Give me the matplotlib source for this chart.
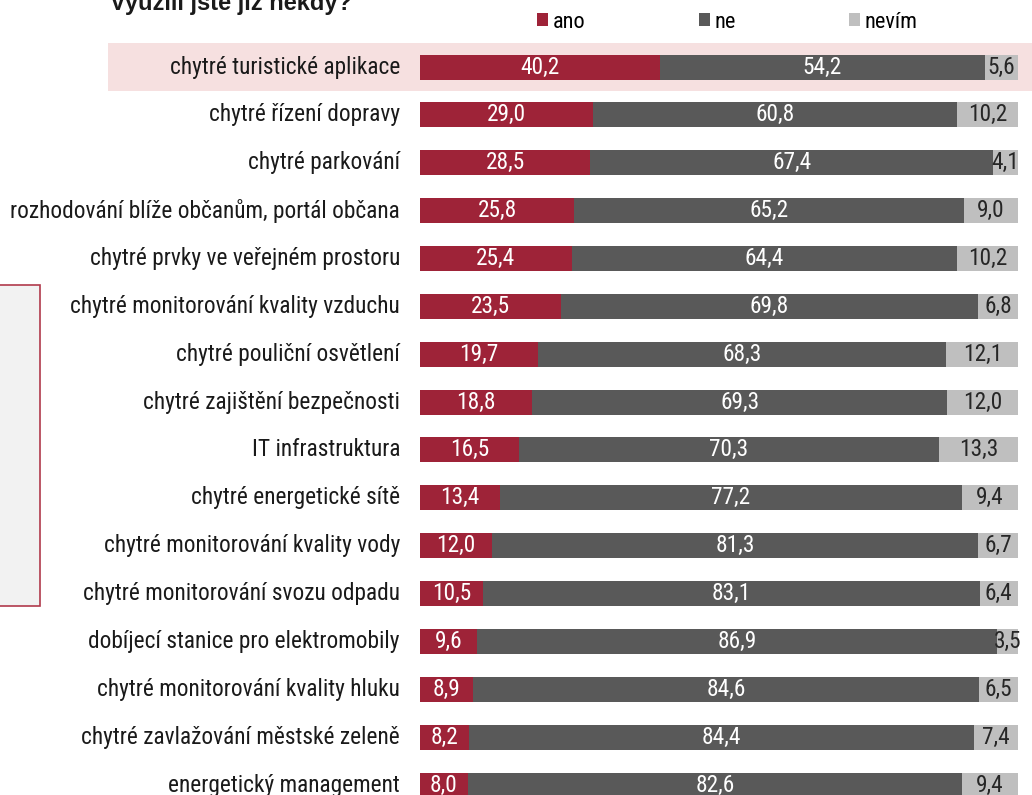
import matplotlib
matplotlib.use("Agg")
import matplotlib.pyplot as plt
from matplotlib.patches import Rectangle
from matplotlib import font_manager

categories = [
    "chytré turistické aplikace",
    "chytré řízení dopravy",
    "chytré parkování",
    "rozhodování blíže občanům, portál občana",
    "chytré prvky ve veřejném prostoru",
    "chytré monitorování kvality vzduchu",
    "chytré pouliční osvětlení",
    "chytré zajištění bezpečnosti",
    "IT infrastruktura",
    "chytré energetické sítě",
    "chytré monitorování kvality vody",
    "chytré monitorování svozu odpadu",
    "dobíjecí stanice pro elektromobily",
    "chytré monitorování kvality hluku",
    "chytré zavlažování městské zeleně",
    "energetický management",
]
ano = [40.2, 29.0, 28.5, 25.8, 25.4, 23.5, 19.7, 18.8, 16.5, 13.4, 12.0, 10.5, 9.6, 8.9, 8.2, 8.0]
ne = [54.2, 60.8, 67.4, 65.2, 64.4, 69.8, 68.3, 69.3, 70.3, 77.2, 81.3, 83.1, 86.9, 84.6, 84.4, 82.6]
nevim = [5.6, 10.2, 4.1, 9.0, 10.2, 6.8, 12.1, 12.0, 13.3, 9.4, 6.7, 6.4, 3.5, 6.5, 7.4, 9.4]
series_names = ["ano", "ne", "nevím"]
title = "Využili jste již někdy?"

C_ANO = "#9e2338"
C_NE = "#595959"
C_NEVIM = "#bfbfbf"

available = {f.name for f in font_manager.fontManager.ttflist}
narrow = next((n for n in ["Liberation Sans Narrow", "Arial Narrow", "Roboto Condensed",
                           "Archivo Narrow", "Asap Condensed"] if n in available), "DejaVu Sans")
FONT = [narrow, "DejaVu Sans"]
bold = next((n for n in ["Liberation Sans", "Arimo", "DejaVu Sans"] if n in available), "DejaVu Sans")
TFONT = [bold, "DejaVu Sans"]

W, H = 1032, 795
fig = plt.figure(figsize=(W / 100, H / 100), dpi=100)
fig.patch.set_facecolor("white")

fig.patches.append(Rectangle((108 / W, 1 - 91 / H), (W - 108) / W, 48 / H,
                             transform=fig.transFigure, facecolor="#f6e0e0",
                             edgecolor="none", zorder=-2))
fig.patches.append(Rectangle((-5 / W, 1 - 606 / H), 45 / W, 321 / H,
                             transform=fig.transFigure, facecolor="#f2f2f2",
                             edgecolor="#b03a4c", linewidth=1.2, zorder=-2))

ax = fig.add_axes([420 / W, 0, 598 / W, 1])
ax.set_zorder(1)
ax.patch.set_alpha(0)
ax.set_xlim(0, 100)
step = 47.87
ax.set_ylim((H - 67) / step, -67 / step)
ax.axis("off")

y = list(range(len(categories)))
left2 = [a + b for a, b in zip(ano, ne)]
h = 25 / step
b1 = ax.barh(y, ano, height=h, color=C_ANO, label=series_names[0])
b2 = ax.barh(y, ne, left=ano, height=h, color=C_NE, label=series_names[1])
b3 = ax.barh(y, nevim, left=left2, height=h, color=C_NEVIM, label=series_names[2])

fs = 16.8
for i in y:
    ax.text(ano[i] / 2, i, f"{ano[i]:.1f}".replace(".", ","), ha="center", va="center",
            color="white", fontsize=fs, family=FONT)
    ax.text(ano[i] + ne[i] / 2, i, f"{ne[i]:.1f}".replace(".", ","), ha="center", va="center",
            color="white", fontsize=fs, family=FONT)
    ax.text(left2[i] + nevim[i] / 2, i, f"{nevim[i]:.1f}".replace(".", ","), ha="center",
            va="center", color="#262626", fontsize=fs, family=FONT)
    ax.text(-20 / 598 * 100, i, categories[i], ha="right", va="center",
            color="#1a1a1a", fontsize=fs, family=FONT)

fig.legend(handles=[b1, b2, b3], labels=series_names, loc="center left",
           bbox_to_anchor=(517 / W, 1 - 22 / H), ncol=3, frameon=False,
           prop={"family": FONT, "size": 16}, handlelength=0.5, handleheight=0.5,
           handletextpad=0.2, columnspacing=5.1)

fig.text(110 / W, 1 - 3 / H, title, ha="left", va="center", fontsize=17,
         fontweight="bold", family=TFONT, color="#1a1a1a")

fig.savefig("out.png", dpi=100)
